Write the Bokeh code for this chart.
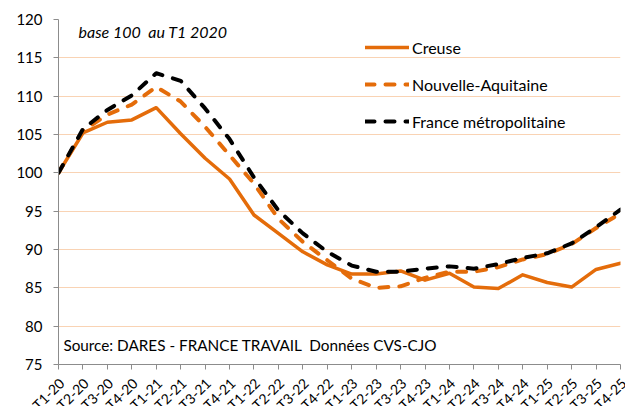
from math import pi
from bokeh.plotting import figure
from bokeh.models import Range1d, FixedTicker, Legend, LegendItem, Label
from bokeh.core.properties import value
from bokeh.embed import file_html
from bokeh.resources import INLINE

quarters = ["T1-20", "T2-20", "T3-20", "T4-20", "T1-21", "T2-21", "T3-21", "T4-21",
            "T1-22", "T2-22", "T3-22", "T4-22", "T1-23", "T2-23", "T3-23", "T4-23",
            "T1-24", "T2-24", "T3-24", "T4-24", "T1-25", "T2-25", "T3-25", "T4-25"]
creuse = [100, 105.2, 106.6, 106.9, 108.5, 105.1, 101.9, 99.2,
          94.5, 92.1, 89.7, 88.0, 86.8, 86.8, 87.2, 86.0,
          86.9, 85.1, 84.9, 86.7, 85.7, 85.1, 87.4, 88.2]
nouvelle_aquitaine = [100, 105.5, 107.6, 108.9, 111.2, 109.3, 106.0, 102.3,
                      98.6, 94.0, 91.0, 88.6, 86.2, 85.0, 85.2, 86.3,
                      87.1, 87.1, 87.7, 88.7, 89.4, 90.7, 92.8, 94.7]
france = [100, 105.7, 108.2, 110.1, 113.0, 112.0, 108.4, 104.4,
          99.4, 95.1, 92.1, 89.7, 87.9, 87.1, 87.1, 87.5,
          87.8, 87.5, 88.1, 88.9, 89.5, 90.8, 92.9, 95.2]
y_ticks = [75, 80, 85, 90, 95, 100, 105, 110, 115, 120]

xs = list(range(len(quarters)))
ORANGE = "#E46C0A"
AXIS_GREY = "#8C8C8C"
FONT = "Lato"

W, LEFT, RIGHT = 625, 58, 5
n_int = len(quarters) - 1
x_range = Range1d(0, n_int)

p = figure(width=W, height=374, output_backend="svg", toolbar_location=None,
           x_range=x_range, y_range=Range1d(75, 120),
           min_border_left=LEFT, min_border_right=RIGHT, min_border_top=19,
           min_border_bottom=10)
p.outline_line_color = None
p.background_fill_color = "white"
p.border_fill_color = "white"

# axes
p.yaxis.ticker = FixedTicker(ticks=y_ticks)
p.yaxis.axis_line_color = AXIS_GREY
p.yaxis.major_tick_line_color = AXIS_GREY
p.yaxis.major_tick_out = 5
p.yaxis.major_tick_in = 0
p.yaxis.minor_tick_line_color = None
p.yaxis.major_label_text_font = FONT
p.yaxis.major_label_text_font_size = "15px"
p.yaxis.major_label_text_color = "#000000"
p.yaxis.major_label_standoff = 11

p.xaxis.ticker = FixedTicker(ticks=xs)
p.xaxis.axis_line_color = AXIS_GREY
p.xaxis.major_tick_line_color = AXIS_GREY
p.xaxis.major_tick_out = 5
p.xaxis.major_tick_in = 0
p.xaxis.minor_tick_line_color = None
p.xaxis.major_label_overrides = {i: "" for i in xs}
p.xaxis.major_label_standoff = 0

p.xgrid.grid_line_color = None
p.ygrid.ticker = FixedTicker(ticks=y_ticks)
p.ygrid.grid_line_color = "#F9D3B4"
p.ygrid.grid_line_width = 1

r1 = p.line(xs, creuse, line_color=ORANGE, line_width=3.5,
            line_join="round", line_cap="round")
r2 = p.line(xs, nouvelle_aquitaine, line_color=ORANGE, line_width=4,
            line_dash="9 11", line_cap="round", line_join="round")
r3 = p.line(xs, france, line_color="#000000", line_width=4,
            line_dash="9 11", line_cap="round", line_join="round")

legend = Legend(items=[LegendItem(label="Creuse", renderers=[r1]),
                       LegendItem(label="Nouvelle-Aquitaine", renderers=[r2]),
                       LegendItem(label="France métropolitaine", renderers=[r3])],
                location=(307, 233), padding=0, margin=0, spacing=17,
                glyph_width=44, glyph_height=20, label_height=20,
                label_standoff=3, border_line_alpha=0,
                background_fill_alpha=0, label_text_font=FONT,
                label_text_font_size="16px", label_text_color="#000000")
p.add_layout(legend)

p.add_layout(Label(x=0.82, y=118.4, text="base 100\u00a0 au T1 2020",
                   text_font=FONT, text_font_style="italic",
                   text_font_size="16px", text_baseline="middle",
                   text_color="#000000"))
p.add_layout(Label(x=0.2, y=77.5,
                   text="Source: DARES - FRANCE TRAVAIL\u00a0 Données CVS-CJO",
                   text_font=FONT, text_font_size="15.3px",
                   text_baseline="middle", text_color="#000000"))

# strip below the chart carrying the rotated quarter labels; its frame spans
# the full width, with an x mapping equal to the chart's
unit = (W - LEFT - RIGHT) / n_int
p2 = figure(width=W, height=32, output_backend="svg", toolbar_location=None,
            x_range=Range1d(-LEFT / unit, n_int + RIGHT / unit),
            y_range=Range1d(0, 32),
            x_axis_type=None, y_axis_type=None,
            min_border_left=0, min_border_right=0, min_border_top=0,
            min_border_bottom=0)
p2.outline_line_color = None
p2.xgrid.grid_line_color = None
p2.ygrid.grid_line_color = None
p2.background_fill_color = "white"
p2.border_fill_color = "white"
p2.text(x=xs, y=[26] * len(xs), text=quarters, angle=pi / 4,
        text_align="right", text_baseline="middle", x_offset=3,
        text_font=value(FONT), text_font_size="14px", text_color="#000000")

open("out.html", "w").write(file_html([p, p2], INLINE))
